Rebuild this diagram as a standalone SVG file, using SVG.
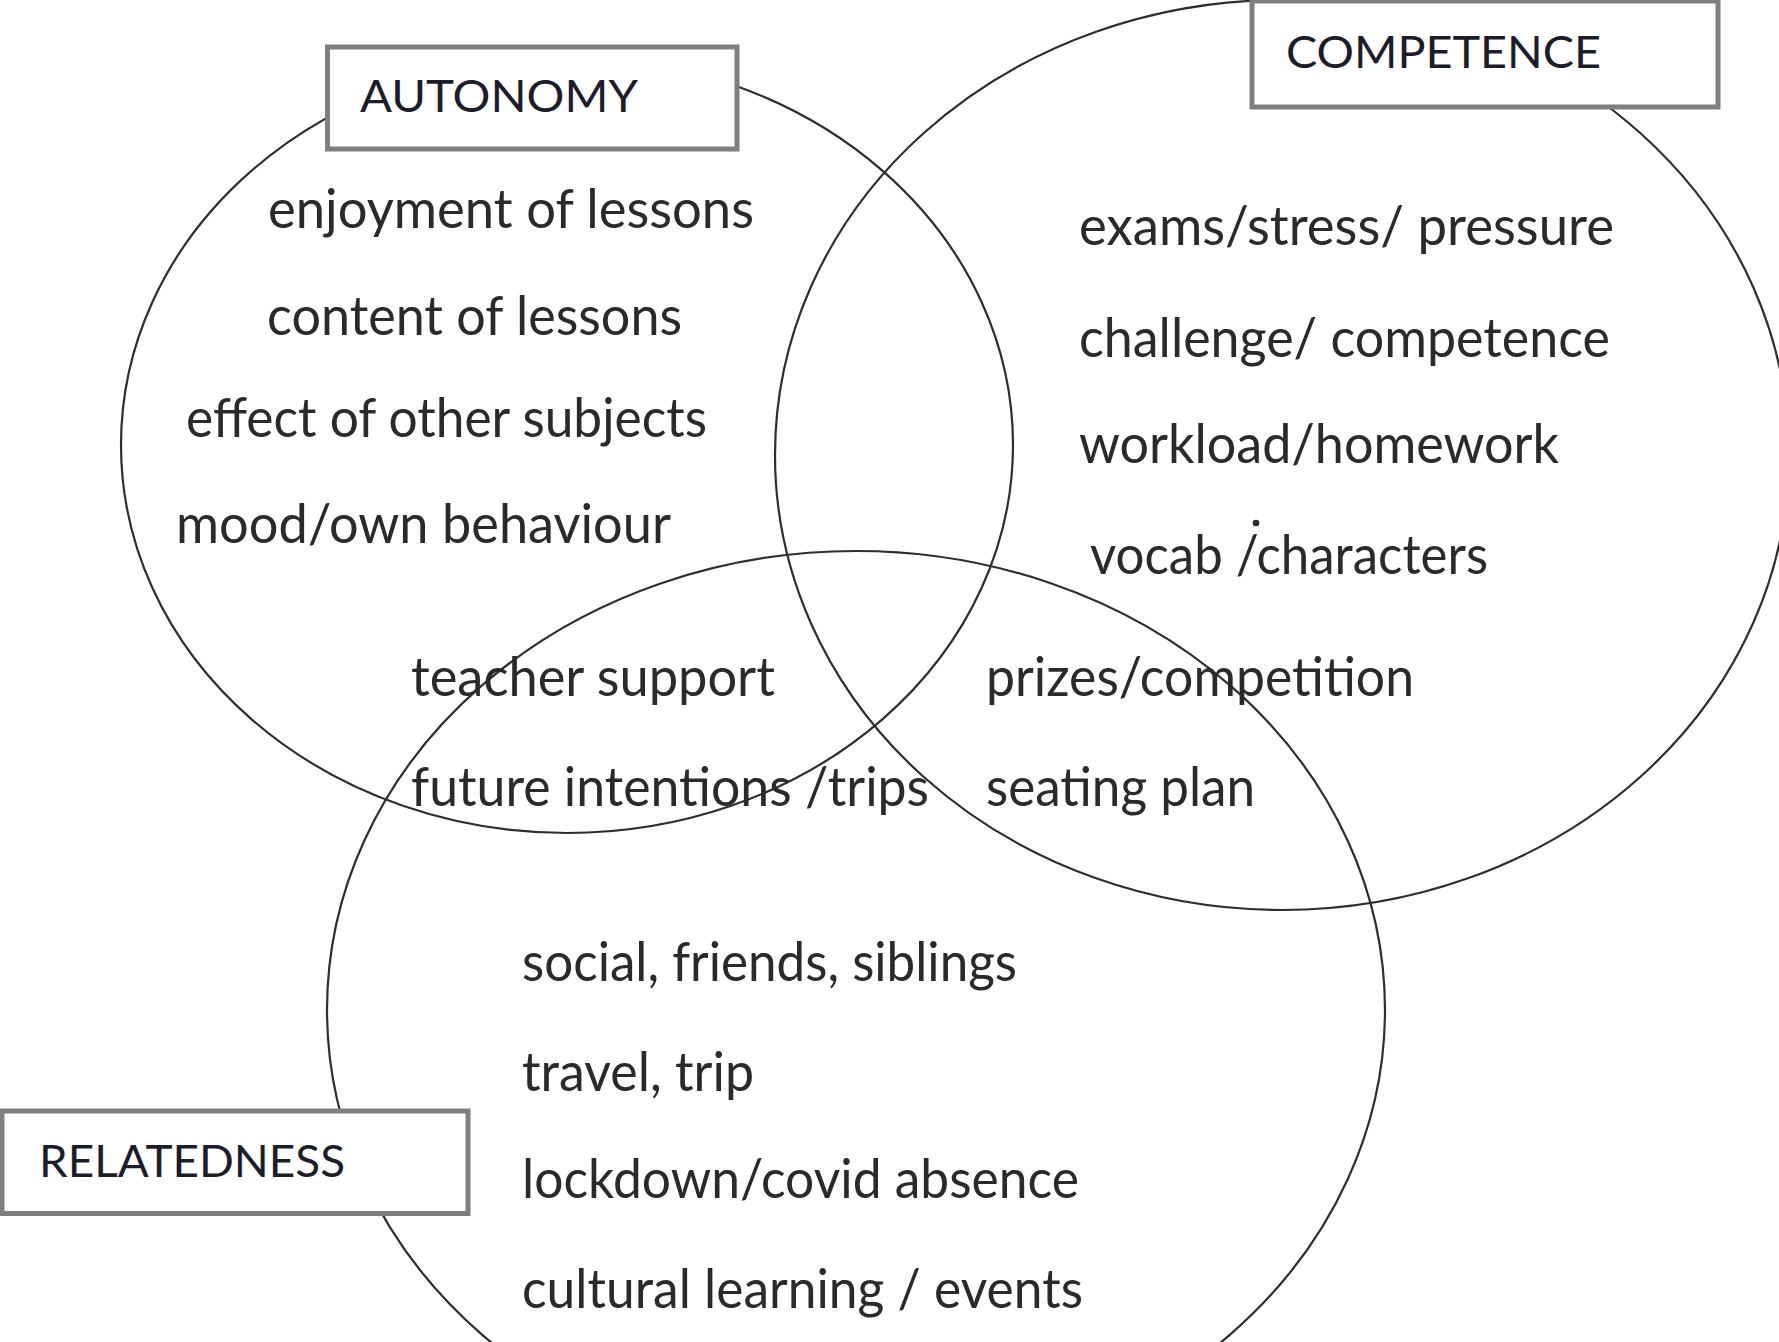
<svg xmlns="http://www.w3.org/2000/svg" width="1779" height="1342" viewBox="0 0 1779 1342">
  <style>
    .ring { fill: none; stroke: #2e2e2e; stroke-width: 2.2; }
    .box { fill: #ffffff; stroke: #7f7f7f; stroke-width: 5; }
    .title { font-family: Lato, "Liberation Sans", sans-serif; font-size: 45px; fill: #1c1c2a; }
    .item { font-family: Lato, "Liberation Sans", sans-serif; font-size: 55px; fill: #2a2a2a; }
  </style>

  <rect x="0" y="0" width="1779" height="1342" fill="#ffffff"/>

  <!-- the three overlapping sets -->
  <g id="sets">
    <ellipse id="set-autonomy" class="ring" cx="567" cy="445" rx="446" ry="388"/>
    <ellipse id="set-competence" class="ring" cx="1282" cy="455" rx="507" ry="455"/>
    <ellipse id="set-relatedness" class="ring" cx="856" cy="1010" rx="529" ry="459"/>
  </g>

  <!-- no connectors in this figure -->
  <g id="connectors"/>

  <!-- AUTONOMY -->
  <g id="node-autonomy">
    <rect class="box" x="327.5" y="47" width="409.5" height="102"/>
    <text class="title" x="360" y="112" textLength="278" lengthAdjust="spacingAndGlyphs">AUTONOMY</text>
    <text class="item" x="268" y="228" textLength="486" lengthAdjust="spacingAndGlyphs">enjoyment of lessons</text>
    <text class="item" x="267" y="335" textLength="415" lengthAdjust="spacingAndGlyphs">content of lessons</text>
    <text class="item" x="186" y="437" textLength="521" lengthAdjust="spacingAndGlyphs">effect of other subjects</text>
    <text class="item" x="176" y="543" textLength="495" lengthAdjust="spacingAndGlyphs">mood/own behaviour</text>
  </g>

  <!-- COMPETENCE -->
  <g id="node-competence">
    <rect class="box" x="1252" y="1" width="466" height="106"/>
    <text class="title" x="1286" y="68" textLength="315" lengthAdjust="spacingAndGlyphs">COMPETENCE</text>
    <text class="item" x="1079" y="245" textLength="535" lengthAdjust="spacingAndGlyphs">exams/stress/ pressure</text>
    <text class="item" x="1079" y="357" textLength="531" lengthAdjust="spacingAndGlyphs">challenge/ competence</text>
    <text class="item" x="1079" y="463" textLength="480" lengthAdjust="spacingAndGlyphs">workload/homework</text>
    <text class="item" x="1090" y="574" textLength="398" lengthAdjust="spacingAndGlyphs">vocab /characters</text>
    <circle cx="1256" cy="523" r="3.3" fill="#2a2a2a"/>
  </g>

  <!-- RELATEDNESS -->
  <g id="node-relatedness">
    <rect class="box" x="2" y="1111" width="466" height="102.5"/>
    <text class="title" x="39" y="1177" textLength="306" lengthAdjust="spacingAndGlyphs">RELATEDNESS</text>
    <text class="item" x="522" y="981" textLength="495" lengthAdjust="spacingAndGlyphs">social, friends, siblings</text>
    <text class="item" x="522" y="1091" textLength="232" lengthAdjust="spacingAndGlyphs">travel, trip</text>
    <text class="item" x="522" y="1198" textLength="557" lengthAdjust="spacingAndGlyphs">lockdown/covid absence</text>
    <text class="item" x="522" y="1308" textLength="561" lengthAdjust="spacingAndGlyphs">cultural learning / events</text>
  </g>

  <!-- shared regions -->
  <g id="overlap-autonomy-relatedness">
    <text class="item" x="411" y="696" textLength="364" lengthAdjust="spacingAndGlyphs">teacher support</text>
    <text class="item" x="411" y="806" textLength="518" lengthAdjust="spacingAndGlyphs">future intentions /trips</text>
  </g>
  <g id="overlap-competence-relatedness">
    <text class="item" x="986" y="696" textLength="428" lengthAdjust="spacingAndGlyphs">prizes/competition</text>
    <text class="item" x="986" y="806" textLength="269" lengthAdjust="spacingAndGlyphs">seating plan</text>
  </g>
</svg>
